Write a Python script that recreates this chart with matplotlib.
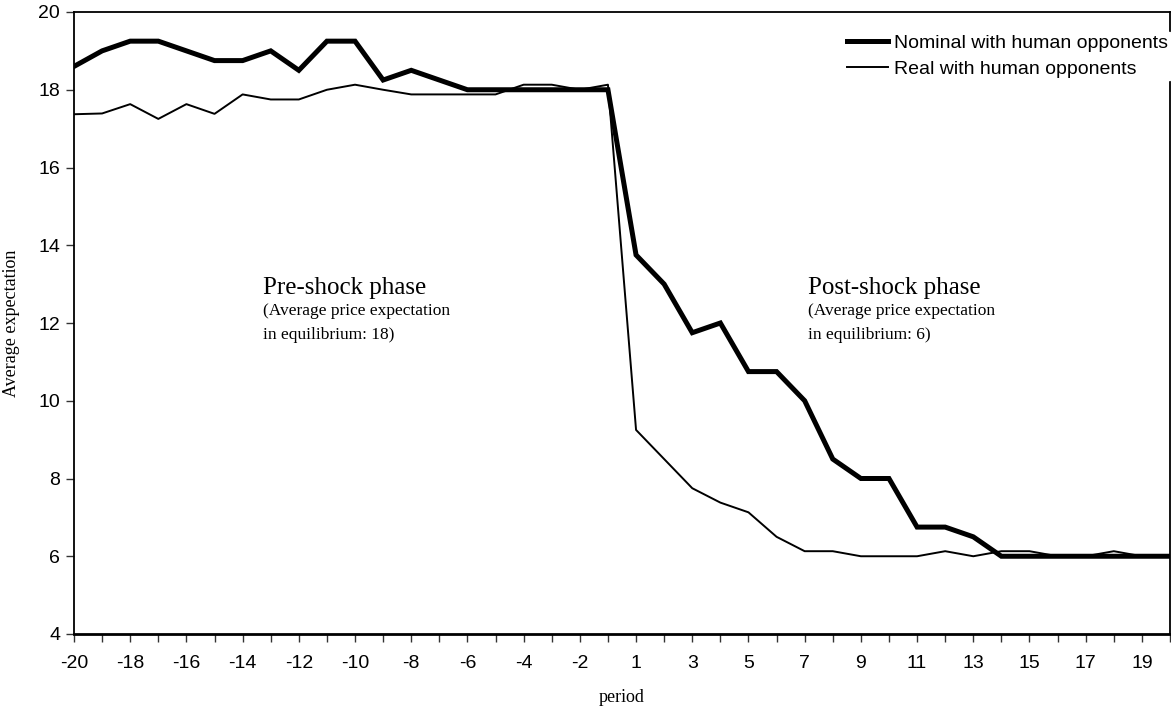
import matplotlib
matplotlib.use("Agg")
import matplotlib.pyplot as plt
import numpy as np

# periods: -20..-1 before the shock, 1..20 after (no period 0)
periods = list(range(-20, 0)) + list(range(1, 21))

nominal = [18.6, 19.0, 19.25, 19.25, 19.0, 18.75, 18.75, 19.0, 18.5, 19.25,
           19.25, 18.25, 18.5, 18.25, 18.0, 18.0, 18.0, 18.0, 18.0, 18.0,
           13.75, 13.0, 11.75, 12.0, 10.75, 10.75, 10.0, 8.5, 8.0, 8.0,
           6.75, 6.75, 6.5, 6.0, 6.0, 6.0, 6.0, 6.0, 6.0, 6.0]
real = [17.37, 17.39, 17.63, 17.25, 17.63, 17.38, 17.88, 17.75, 17.75, 18.0,
        18.13, 18.0, 17.88, 17.88, 17.88, 17.88, 18.13, 18.13, 18.0, 18.13,
        9.25, 8.5, 7.75, 7.38, 7.13, 6.5, 6.13, 6.13, 6.0, 6.0,
        6.0, 6.13, 6.0, 6.13, 6.13, 6.0, 6.0, 6.13, 6.0, 6.0]

series_labels = ["Nominal with human opponents", "Real with human opponents"]
y_ticks = list(range(4, 21, 2))

SERIF = ["Liberation Serif", "DejaVu Serif"]
SANS = ["Liberation Sans", "DejaVu Sans"]

plt.rcParams["font.family"] = SANS

fig = plt.figure(figsize=(11.71, 7.07), dpi=100)
ax = fig.add_axes([74 / 1171, 1 - 634 / 707, 1096 / 1171, 622 / 707])

x = np.arange(len(periods))
ax.plot(x, nominal, color="black", lw=3.6, label=series_labels[0], solid_joinstyle="miter")
ax.plot(x, real, color="black", lw=1.4, label=series_labels[1])

ax.set_xlim(0, len(periods) - 1)
ax.set_ylim(4, 20)
ax.set_yticks(y_ticks)
ax.set_yticklabels([str(v) for v in y_ticks], fontsize=14)
ax.set_xticks(x)
ax.set_xticklabels([str(p) if i % 2 == 0 else "" for i, p in enumerate(periods)], fontsize=14)
ax.tick_params(direction="out", length=6, width=1.0, color="#333333")
ax.tick_params(axis="x", pad=9)
ax.tick_params(axis="y", pad=4)
for sp in ax.spines.values():
    sp.set_linewidth(1.3)
ax.spines["bottom"].set_linewidth(2)

ax.set_xlabel("period", family=SERIF, fontsize=13, labelpad=12)
ax.set_ylabel("Average expectation", family=SERIF, fontsize=13, labelpad=13)

# phase annotations
ax.text(6.73, 12.74, "Pre-shock phase", family=SERIF, fontsize=18, va="baseline")
ax.text(6.73, 12.2, "(Average price expectation", family=SERIF, fontsize=12.5, va="baseline")
ax.text(6.73, 11.58, "in equilibrium: 18)", family=SERIF, fontsize=12.5, va="baseline")
ax.text(26.12, 12.74, "Post-shock phase", family=SERIF, fontsize=18, va="baseline")
ax.text(26.12, 12.2, "(Average price expectation", family=SERIF, fontsize=12.5, va="baseline")
ax.text(26.12, 11.58, "in equilibrium: 6)", family=SERIF, fontsize=12.5, va="baseline")

leg = ax.legend(loc="upper left", bbox_to_anchor=(845 / 1171, 1 - 32 / 707),
                bbox_transform=fig.transFigure, fontsize=14, frameon=True,
                borderpad=0.1, borderaxespad=0, handlelength=2.1, handletextpad=0.3,
                labelspacing=0.45, fancybox=False)
leg.get_frame().set_edgecolor("white")
leg.get_frame().set_facecolor("white")
leg.get_frame().set_alpha(1)

fig.savefig("out.png", dpi=100)
